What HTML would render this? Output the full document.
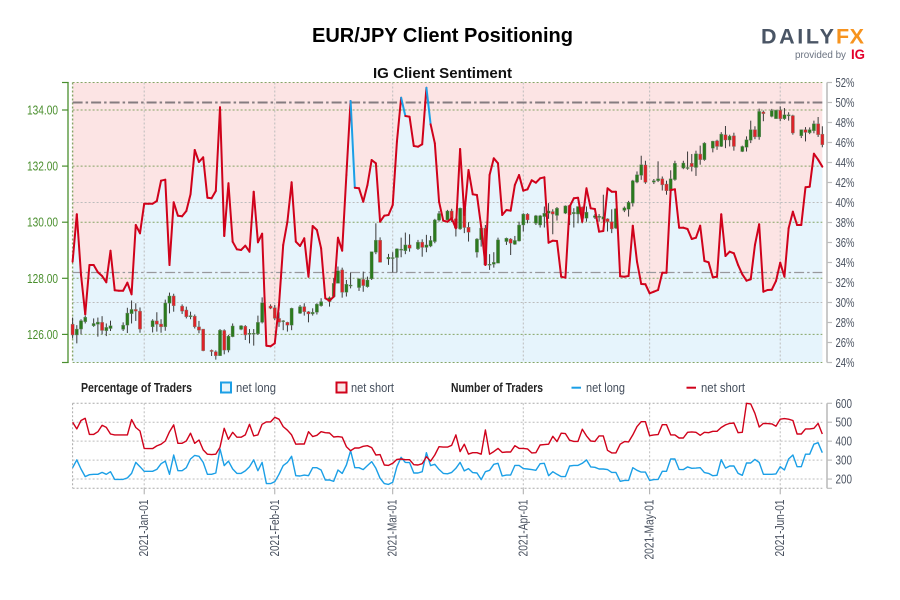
<!DOCTYPE html>
<html lang="en">
<head>
<meta charset="utf-8">
<title>EUR/JPY Client Positioning</title>
<style>
html,body{margin:0;padding:0;background:#fff;width:900px;height:600px;overflow:hidden}
svg{display:block}
text{font-family:"Liberation Sans Narrow","Liberation Sans",sans-serif}
</style>
</head>
<body>
<svg id="chart" xmlns="http://www.w3.org/2000/svg" width="900" height="600" viewBox="0 0 900 600">
  <text x="312" y="42" textLength="261" lengthAdjust="spacingAndGlyphs" style="font-family:'Liberation Sans',sans-serif;font-weight:700;font-size:20.5px" fill="#000">EUR/JPY Client Positioning</text>
  <text x="373" y="78" textLength="139" lengthAdjust="spacingAndGlyphs" style="font-family:'Liberation Sans',sans-serif;font-weight:700;font-size:15px" fill="#111">IG Client Sentiment</text>
  <g>
    <text x="761" y="43.5" textLength="73" lengthAdjust="spacing" style="font-family:'Liberation Sans',sans-serif;font-weight:700;font-size:21.5px" fill="#4a5565">DAILY</text>
    <text x="836" y="43.5" textLength="28" lengthAdjust="spacing" style="font-family:'Liberation Sans',sans-serif;font-weight:700;font-size:21.5px" fill="#f7931e">FX</text>
    <text x="795" y="58" textLength="51" lengthAdjust="spacingAndGlyphs" style="font-family:'Liberation Sans',sans-serif;font-size:10.5px" fill="#6a7280">provided by</text>
    <text x="851" y="59" textLength="14" lengthAdjust="spacingAndGlyphs" style="font-family:'Liberation Sans',sans-serif;font-weight:700;font-size:14px" fill="#e3002b">IG</text>
  </g>
  <g id="plot-top"></g>
  <g id="plot-bottom"></g>
  <g>
    <text x="81" y="392" textLength="111" lengthAdjust="spacingAndGlyphs" style="font-weight:700;font-size:12.5px" fill="#222">Percentage of Traders</text>
    <rect x="221" y="382.5" width="10" height="10" fill="#e6f4fb" stroke="#1b9fe6" stroke-width="2"/>
    <text x="236" y="392" textLength="40" lengthAdjust="spacingAndGlyphs" style="font-size:12.5px" fill="#444e5c">net long</text>
    <rect x="336.5" y="382.5" width="10" height="10" fill="#fbe6e6" stroke="#d0021b" stroke-width="2"/>
    <text x="351" y="392" textLength="43" lengthAdjust="spacingAndGlyphs" style="font-size:12.5px" fill="#444e5c">net short</text>
    <text x="451" y="392" textLength="92" lengthAdjust="spacingAndGlyphs" style="font-weight:700;font-size:12.5px" fill="#222">Number of Traders</text>
    <line x1="571.5" y1="387.7" x2="581" y2="387.7" stroke="#1b9fe6" stroke-width="2"/>
    <text x="586" y="392" textLength="39" lengthAdjust="spacingAndGlyphs" style="font-size:12.5px" fill="#444e5c">net long</text>
    <line x1="686.5" y1="387.7" x2="696" y2="387.7" stroke="#d0021b" stroke-width="2"/>
    <text x="701" y="392" textLength="44" lengthAdjust="spacingAndGlyphs" style="font-size:12.5px" fill="#444e5c">net short</text>
  </g>
</svg>
<script>
// ---- chart data (index = calendar days since 2020-12-15) ----
const dateTickLabels = ["2021-Jan-01","2021-Feb-01","2021-Mar-01","2021-Apr-01","2021-May-01","2021-Jun-01"];
const dateTickDays = [17,48,76,107,137,168];
const priceTicks = [126,128,130,132,134];
const percentTicks = [24,26,28,30,32,34,36,38,40,42,44,46,48,50,52];
const percentGrid = [30,40];
const countTicks = [200,300,400,500,600];
const percentRefLevels = [50,33];

const sentimentPct = [34.08,38.82,32.75,28.82,33.75,33.75,33.02,32.65,32.02,35.18,31.22,31.18,31.18,31.98,30.82,37.75,36.92,39.88,39.88,39.88,40.15,42.18,42.28,33.75,40.02,38.68,38.62,39.15,40.82,45.25,44.05,44.52,40.48,40.42,41.15,49.52,36.65,41.92,36.08,35.32,35.25,35.68,35.08,41.08,36.02,36.88,25.68,25.62,25.92,29.75,35.75,38.08,42.02,36.08,35.65,36.42,32.58,37.65,37.25,35.42,30.42,30.18,30.58,36.48,35.18,42.75,50.15,41.48,41.42,40.08,41.75,44.25,43.92,38.08,38.68,38.75,39.75,46.08,50.48,48.65,48.58,45.65,45.58,45.82,51.48,47.82,45.92,40.08,38.18,38.08,38.42,37.42,45.35,38.75,43.25,40.82,40.75,37.58,33.75,42.75,44.42,43.92,38.75,39.25,39.18,41.75,42.75,41.18,41.32,42.22,41.98,42.42,42.52,35.98,36.18,36.15,32.58,32.48,39.58,40.42,40.48,38.08,41.42,39.42,39.35,37.08,37.15,41.42,41.08,41.08,32.62,32.58,32.65,37.68,34.08,31.85,31.82,30.92,31.08,31.25,32.98,32.98,41.25,41.32,37.48,37.48,37.35,36.35,36.48,37.68,34.15,34.02,32.52,32.58,38.82,34.65,35.08,34.92,33.75,32.82,32.18,32.32,35.75,37.82,31.08,31.25,31.28,32.15,33.98,32.58,37.42,39.08,37.75,37.75,41.52,41.58,44.88,44.28,43.58];

const netShortCount = [500,465,509,521,436,436,450,484,473,438,433,433,433,433,514,472,454,362,361,361,375,384,401,450,486,389,389,401,442,389,406,354,331,329,331,368,468,410,447,421,421,433,489,428,433,489,502,502,526,516,477,458,433,384,385,385,450,424,431,450,445,443,422,424,421,371,350,364,364,373,376,366,327,329,274,272,283,304,306,302,302,276,274,281,318,295,327,371,369,369,378,433,345,384,332,339,339,331,459,331,345,362,341,343,343,376,362,362,359,338,339,380,382,384,426,398,442,440,405,399,399,463,428,401,399,428,428,352,338,338,384,398,396,433,477,503,503,429,433,435,487,487,433,433,417,417,447,449,447,431,447,445,452,452,472,486,494,496,445,447,600,597,547,475,494,493,491,479,516,519,516,509,438,438,465,465,468,494,438];

const netLongCount = [260,301,253,213,223,225,225,235,225,239,198,198,198,206,230,288,265,241,241,241,251,281,295,225,327,244,244,260,306,325,320,288,225,225,232,359,271,295,253,230,230,243,265,301,244,288,176,176,186,225,271,288,320,218,216,221,218,260,260,248,195,195,188,248,230,274,350,260,260,250,271,292,257,204,176,172,183,265,315,288,287,232,232,239,339,271,278,251,230,228,235,257,288,243,255,234,232,197,239,246,278,283,216,221,221,272,272,255,253,250,246,281,283,218,239,225,213,213,269,272,272,283,301,264,262,253,253,250,235,235,188,193,193,260,246,237,237,193,197,198,241,241,306,306,251,250,264,257,258,260,234,230,218,220,302,258,269,269,230,220,285,285,304,288,225,225,225,227,265,248,306,327,265,265,331,331,384,392,339];

const candleDays = [0,1,2,3,5,6,7,8,9,12,13,14,15,16,19,20,21,22,23,24,26,27,28,29,30,31,33,34,35,36,37,38,40,41,42,43,44,45,47,48,49,50,51,52,54,55,56,57,58,59,61,62,63,64,65,66,68,69,70,71,72,73,75,76,77,78,79,80,82,83,84,85,86,87,89,90,91,92,93,94,96,97,98,99,100,101,103,104,105,106,107,108,110,111,112,113,114,115,117,118,119,120,121,122,124,125,126,127,128,129,131,132,133,134,135,136,138,139,140,141,142,143,145,146,147,148,149,150,152,153,154,155,156,157,159,160,161,162,163,164,166,167,168,169,170,171,173,174,175,176,177,178];
const candleOpen = [126.36,125.98,126.19,126.45,126.31,126.36,126.43,126.13,126.21,126.18,126.33,126.74,126.89,126.83,126.27,126.48,126.37,126.27,127.11,127.37,127.01,126.87,126.63,126.65,126.27,126.19,125.43,125.38,125.24,126.14,125.44,125.92,126.18,126.29,126.00,126.01,126.02,126.43,127.01,126.95,126.57,126.46,126.43,126.33,126.75,126.99,126.81,126.73,126.79,127.02,127.17,127.35,127.82,128.30,127.50,127.74,127.67,127.96,127.70,127.98,128.93,129.36,128.69,128.71,128.74,129.00,128.98,129.19,129.05,129.29,129.10,129.15,129.31,130.07,130.08,130.40,130.12,129.76,130.50,129.82,128.93,129.37,129.79,128.48,128.50,128.54,129.31,129.40,129.21,129.33,129.90,130.29,129.96,129.90,130.20,130.32,130.38,130.24,130.32,130.60,130.30,130.29,130.54,130.14,130.17,130.17,130.11,130.12,130.02,129.79,130.42,130.46,130.68,131.43,131.67,132.04,131.43,131.48,131.55,131.36,131.12,131.52,131.93,131.93,132.10,131.95,132.43,132.23,132.64,132.90,132.70,133.12,132.93,133.08,132.52,132.67,132.92,133.30,133.04,133.93,133.77,133.69,133.99,133.69,133.79,133.80,133.08,133.30,133.19,133.26,133.51,133.14];
const candleHigh = [126.60,126.33,126.54,126.67,126.57,126.60,126.65,126.39,126.49,126.43,126.95,127.21,127.11,126.96,126.54,126.79,126.54,127.24,127.49,127.45,127.07,126.99,126.81,126.71,126.48,126.19,125.46,125.43,126.19,126.18,125.98,126.39,126.33,126.33,126.19,126.19,126.67,127.32,127.07,127.05,126.79,126.51,126.45,126.95,127.05,127.11,126.83,126.93,127.11,127.29,127.35,128.00,128.42,128.38,127.94,128.20,128.00,128.24,128.06,128.95,129.96,129.46,128.87,128.93,129.07,129.45,129.63,129.57,129.37,129.39,129.55,129.51,130.12,130.40,130.44,130.48,130.14,130.52,130.52,130.00,129.43,129.81,129.90,128.86,128.93,129.45,129.45,129.43,129.51,130.02,130.32,130.32,130.26,130.26,130.56,130.68,130.46,130.54,130.60,130.62,130.50,130.56,130.56,130.56,130.29,130.29,130.98,130.14,130.46,130.50,130.56,130.76,131.51,131.81,132.37,132.19,131.54,132.17,131.63,131.48,131.85,132.19,132.19,132.52,132.43,132.55,132.73,132.85,132.90,132.94,133.21,133.43,133.12,133.19,132.73,133.06,133.62,133.42,134.05,133.98,134.04,134.01,134.13,134.07,133.92,133.83,133.30,133.39,133.38,133.62,133.75,133.42];
const candleLow = [125.86,125.68,126.00,126.39,126.27,125.92,126.00,125.94,126.12,126.12,126.05,126.39,126.48,126.06,126.07,126.10,126.06,126.13,126.75,126.81,126.73,126.57,126.54,126.21,126.04,125.40,125.23,125.10,125.23,125.29,125.36,125.90,126.15,125.80,125.68,125.60,125.98,126.39,126.90,126.51,126.27,126.15,126.10,126.15,126.73,126.67,126.43,126.67,126.71,126.99,126.99,127.31,127.82,127.31,127.35,127.64,127.55,127.52,127.67,127.94,128.86,128.56,128.48,128.21,128.21,128.75,128.86,128.95,129.01,128.77,128.93,129.11,129.25,130.02,130.08,130.00,129.49,129.73,129.61,129.31,128.74,129.13,128.45,128.30,128.38,128.54,129.19,128.83,129.19,129.31,129.67,129.96,129.90,129.81,129.81,130.12,129.57,130.06,130.29,129.90,129.81,129.96,129.96,130.02,130.12,130.02,129.99,129.67,129.61,129.76,130.36,130.20,130.56,131.39,131.51,131.37,131.36,131.43,131.13,130.98,131.10,131.48,131.89,131.87,131.81,131.65,132.05,132.19,132.49,132.58,132.68,132.64,132.70,132.55,132.50,132.52,132.82,132.96,132.94,133.60,133.74,133.71,133.60,133.65,133.62,133.12,133.00,132.88,133.14,133.17,133.04,132.67];
const candleClose = [125.98,126.19,126.49,126.61,126.39,126.44,126.14,126.25,126.31,126.33,126.76,126.89,126.83,126.19,126.49,126.36,126.27,127.12,127.37,127.02,126.83,126.63,126.67,126.27,126.15,125.42,125.39,125.24,126.15,125.44,125.94,126.30,126.31,125.98,126.04,126.04,126.43,127.13,126.93,126.57,126.43,126.49,126.33,126.93,126.99,126.81,126.73,126.79,127.08,127.17,127.31,127.82,128.27,127.50,127.79,127.76,127.98,127.74,127.94,128.95,129.36,128.57,128.75,128.74,129.05,129.04,129.19,129.07,129.29,129.10,129.19,129.35,130.08,130.31,130.40,130.14,129.79,130.50,129.81,129.64,129.40,129.79,128.48,128.50,128.57,129.37,129.43,129.25,129.35,129.90,130.29,130.08,130.23,130.23,130.32,130.40,130.29,130.50,130.58,130.26,130.35,130.56,130.14,130.36,130.23,130.21,130.20,130.02,129.76,130.48,130.51,130.71,131.48,131.69,132.05,131.42,131.48,131.55,131.33,131.12,131.55,132.10,132.11,131.95,131.98,132.44,132.23,132.82,132.89,132.70,133.14,132.93,133.07,132.70,132.70,132.94,133.30,133.04,133.95,133.87,133.98,133.99,133.69,133.83,133.83,133.18,133.30,133.20,133.30,133.51,133.12,132.76];

// ---- layout & axis functions ----
const x0 = 72.6, dayStep = 4.212;
const topY = 82.5, botY = 362.5, lowTop = 403.3, lowBot = 488.3;
const plotRight = x0 + dayStep * 178;
const xDay = d => x0 + d * dayStep;
const yPct = v => topY + (52 - v) * 10;
const yPrice = p => 110 + (134 - p) * 28.05;
const yCount = c => lowTop + (600 - c) * 0.1894;

const NS = 'http://www.w3.org/2000/svg';
function mk(parent, tag, props, txt) {
  const e = document.createElementNS(NS, tag);
  for (const k in props) e.setAttribute(k, props[k]);
  if (txt !== undefined) e.textContent = txt;
  parent.appendChild(e);
  return e;
}
const panelTop = document.getElementById('plot-top');
const panelBottom = document.getElementById('plot-bottom');
const GREEN = '#4a8f2e', GREENGRID = '#86a566', GREY = '#bcbcbc', TXT = '#4a5260', RED = '#d0021b', BLUE = '#1b9fe6';
let el;

// top panel: backgrounds
el = mk(panelTop, 'rect', {x: x0, y: topY, width: plotRight - x0, height: botY - topY, fill: '#fce4e4'});


const areaPts = sentimentPct.map((v, i) => xDay(i).toFixed(1) + ',' + yPct(v).toFixed(1));
areaPts.push(xDay(sentimentPct.length - 1).toFixed(1) + ',' + botY, x0 + ',' + botY);
el = mk(panelTop, 'polygon', {points: areaPts.join(' '), fill: '#e6f4fc'});



// top panel: grids
percentGrid.forEach(v => {
  el = mk(panelTop, 'line', {x1: x0, x2: plotRight, y1: yPct(v), y2: yPct(v), stroke: GREY, 'stroke-width': 1, 'stroke-dasharray': '2 2'});
  
  
});
dateTickDays.forEach((d, i) => {
  el = mk(panelTop, 'line', {x1: xDay(d), x2: xDay(d), y1: topY, y2: botY, stroke: GREY, 'stroke-width': 1, 'stroke-dasharray': '2 2'});
  
  
});
priceTicks.forEach(p => {
  el = mk(panelTop, 'line', {x1: x0, x2: plotRight, y1: yPrice(p), y2: yPrice(p), stroke: GREENGRID, 'stroke-width': 1, 'stroke-dasharray': '2 2'});
  
  
});
[topY, botY].forEach((y, i) => {
  el = mk(panelTop, 'line', {x1: x0, x2: plotRight, y1: y, y2: y, stroke: GREENGRID, 'stroke-width': 1, 'stroke-dasharray': '2 2'});
  
  
});
el = mk(panelTop, 'line', {x1: x0, x2: x0, y1: topY, y2: botY, stroke: GREENGRID, 'stroke-width': 1.4, 'stroke-dasharray': '2 2'});



// reference lines
percentRefLevels.forEach((v, i) => {
  el = mk(panelTop, 'line', {x1: x0, x2: plotRight, y1: yPct(v), y2: yPct(v), stroke: i === 0 ? '#857c80' : '#98989c', 'stroke-width': i === 0 ? 2 : 1.3, 'stroke-dasharray': '10 3 2.5 3'});
  
  
});

// candles
candleDays.forEach((d, i) => {
  const o = candleOpen[i], c = candleClose[i], h = candleHigh[i], l = candleLow[i];
  const up = c >= o;
  const g = mk(panelTop, 'g', {});
  
  
  mk(g, 'line', {x1: xDay(d), x2: xDay(d), y1: yPrice(h), y2: yPrice(l), stroke: '#3a3a3a', 'stroke-width': 1});
  const t = yPrice(Math.max(o, c)), b = yPrice(Math.min(o, c));
  mk(g, 'rect', {x: xDay(d) - 1.6, y: t, width: 3.2, height: Math.max(b - t, 1), fill: up ? '#2b7a1e' : '#dd2229', stroke: '#7a8a78', 'stroke-width': 0.4});
});

// sentiment line: each segment coloured by its starting value
for (let i = 0; i < sentimentPct.length - 1; i++) {
  el = mk(panelTop, 'line', {x1: xDay(i), y1: yPct(sentimentPct[i]), x2: xDay(i + 1), y2: yPct(sentimentPct[i + 1]), stroke: sentimentPct[i] > 50 ? BLUE : RED, 'stroke-width': 2, 'stroke-linecap': 'round'});
  
  
}

// left price axis
el = mk(panelTop, 'line', {x1: 68, x2: 68, y1: topY - 0.5, y2: botY + 0.5, stroke: GREEN, 'stroke-width': 1.3});


[topY, botY].forEach((y, i) => {
  el = mk(panelTop, 'line', {x1: 62, x2: 68.6, y1: y, y2: y, stroke: GREEN, 'stroke-width': 1.2});
  
  
});
priceTicks.forEach(p => {
  el = mk(panelTop, 'line', {x1: 62, x2: 68, y1: yPrice(p), y2: yPrice(p), stroke: GREEN, 'stroke-width': 1.2});
  
  
  el = mk(panelTop, 'text', {x: 27, y: yPrice(p) + 4.5, textLength: 31, lengthAdjust: 'spacingAndGlyphs', 'font-size': 13, fill: GREEN}, p.toFixed(2));
  
  
});

// right percent axis
el = mk(panelTop, 'line', {x1: 827, x2: 827, y1: topY, y2: botY, stroke: '#bdbdbd', 'stroke-width': 1.6});


percentTicks.forEach(v => {
  el = mk(panelTop, 'line', {x1: 827, x2: 832, y1: yPct(v), y2: yPct(v), stroke: '#bdbdbd', 'stroke-width': 1.2});
  
  
  el = mk(panelTop, 'text', {x: 835.5, y: yPct(v) + 4.5, textLength: 19, lengthAdjust: 'spacingAndGlyphs', 'font-size': 13, fill: TXT}, v + '%');
  
  
});

// bottom panel: grid
[lowTop, lowBot].forEach((y, i) => {
  el = mk(panelBottom, 'line', {x1: x0, x2: plotRight, y1: y, y2: y, stroke: '#aaa', 'stroke-width': 1, 'stroke-dasharray': '2 2'});
  
  
});
el = mk(panelBottom, 'line', {x1: x0, x2: x0, y1: lowTop, y2: lowBot, stroke: '#aaa', 'stroke-width': 1, 'stroke-dasharray': '2 2'});


countTicks.forEach(c => {
  if (c < 600) {
    el = mk(panelBottom, 'line', {x1: x0, x2: plotRight, y1: yCount(c), y2: yCount(c), stroke: GREY, 'stroke-width': 1, 'stroke-dasharray': '2 2'});
    
    
  }
  el = mk(panelBottom, 'line', {x1: 827, x2: 832, y1: yCount(c), y2: yCount(c), stroke: '#bdbdbd', 'stroke-width': 1.2});
  
  
  el = mk(panelBottom, 'text', {x: 835.5, y: yCount(c) + 4.5, textLength: 16.5, lengthAdjust: 'spacingAndGlyphs', 'font-size': 13, fill: TXT}, String(c));
  
  
});
el = mk(panelBottom, 'line', {x1: 827, x2: 827, y1: lowTop, y2: lowBot, stroke: '#bdbdbd', 'stroke-width': 1.6});


el = mk(panelBottom, 'line', {x1: 827, x2: 832, y1: lowBot, y2: lowBot, stroke: '#bdbdbd', 'stroke-width': 1.2});



// date ticks + labels
dateTickDays.forEach((d, i) => {
  el = mk(panelBottom, 'line', {x1: xDay(d), x2: xDay(d), y1: lowTop, y2: lowBot, stroke: GREY, 'stroke-width': 1, 'stroke-dasharray': '2 2'});
  
  
  el = mk(panelBottom, 'line', {x1: xDay(d), x2: xDay(d), y1: lowBot, y2: lowBot + 6, stroke: '#aaa', 'stroke-width': 1});
  
  
  const len = dateTickLabels[i].indexOf('May') > 0 ? 60 : 57;
  const lx = xDay(d) + 4, ly = 499.5;
  el = mk(panelBottom, 'text', {x: lx, y: ly, 'text-anchor': 'end', transform: 'rotate(-90 ' + lx + ' ' + ly + ')', textLength: len, lengthAdjust: 'spacingAndGlyphs', 'font-size': 13, fill: TXT}, dateTickLabels[i]);
  
  
});

// count lines
const linePts = (arr) => arr.map((c, i) => xDay(i).toFixed(1) + ',' + yCount(c).toFixed(1)).join(' ');
el = mk(panelBottom, 'polyline', {points: linePts(netLongCount), fill: 'none', stroke: BLUE, 'stroke-width': 1.4, 'stroke-linejoin': 'round'});


el = mk(panelBottom, 'polyline', {points: linePts(netShortCount), fill: 'none', stroke: RED, 'stroke-width': 1.4, 'stroke-linejoin': 'round'});


</script>
</body>
</html>
